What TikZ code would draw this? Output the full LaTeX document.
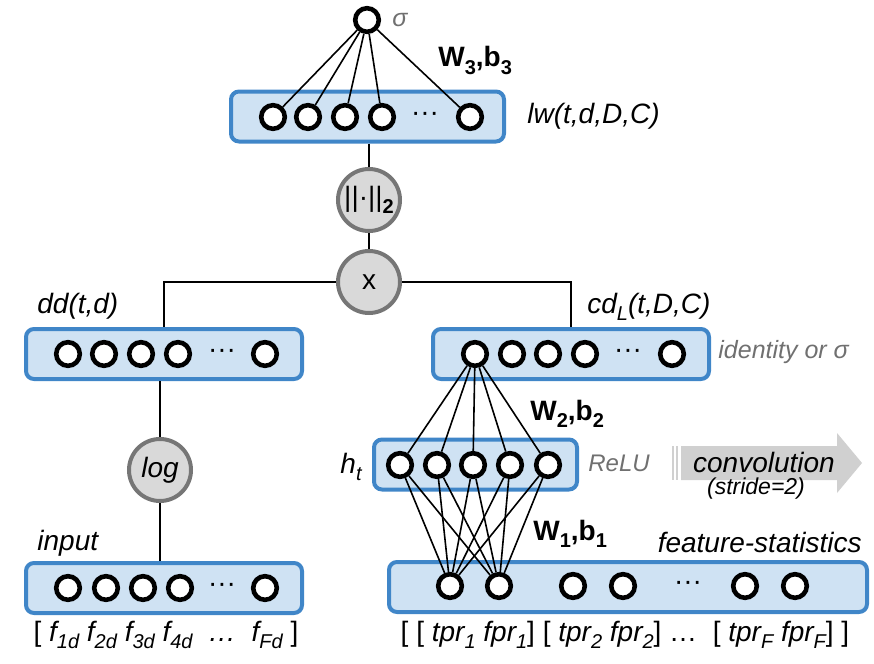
\documentclass[tikz,border=0pt]{standalone}
\usepackage{fontspec}
\setmainfont{Liberation Sans}
\definecolor{layerblue}{RGB}{64,134,200}
\definecolor{layerfill}{RGB}{207,226,243}
\definecolor{opfill}{RGB}{217,217,217}
\definecolor{opedge}{RGB}{118,118,118}
\definecolor{notegrey}{RGB}{112,112,112}
\definecolor{convgrey}{RGB}{208,208,208}
\newcommand{\lowidx}[1]{\raisebox{-0.5ex}{\fontsize{10pt}{11pt}\selectfont #1}}
\usetikzlibrary{positioning}

\begin{document}
\begin{tikzpicture}[x=0.5pt, y=-0.5pt,
		layer/.style={draw=layerblue, line width=2pt, rounded corners=4pt,
			fill=layerfill, minimum height=25pt, inner sep=0pt},
		neuron/.style={circle, draw=black, line width=2.3pt, fill=white,
			minimum size=11.8pt, inner sep=0pt},
		dots/.style={font=\fontsize{14pt}{16pt}\selectfont, inner sep=0pt},
		op/.style={circle, draw=opedge, line width=2pt, fill=opfill,
			minimum size=31pt, inner sep=0pt, font=\fontsize{14pt}{16pt}\selectfont},
		lbl/.style={font=\fontsize{14pt}{16pt}\selectfont\itshape, inner sep=0pt},
		note/.style={font=\fontsize{12.5pt}{14pt}\selectfont\itshape, text=notegrey, inner sep=0pt},
		wlbl/.style={font=\fontsize{14pt}{16pt}\selectfont\bfseries, inner sep=0pt},
		wire/.style={line width=0.8pt}
	]
		\useasboundingbox (0,0) rectangle (874,664);

		% layers
		\node[layer, minimum width=136.5pt] (lwbox) at (367.5,116.5) {};
		\node[layer, minimum width=138pt] (ddbox) at (164,354) {};
		\node[layer, minimum width=138pt] (cdbox) at (571,354) {};
		\node[layer, minimum width=101.5pt] (hbox) at (475.5,464.5) {};
		\node[layer, minimum width=138pt] (inbox) at (164,588) {};
		\node[layer, minimum width=239pt] (fsbox) at (628,587) {};

		% neurons
		\node[neuron] (sig) at (367,20) {};
		\foreach \x [count=\i] in {273,308,345,382,470}
			\node[neuron] (lw\i) at (\x,117) {};
		\foreach \x [count=\i] in {68,104,141,178,265}
			\node[neuron] (dd\i) at (\x,354) {};
		\foreach \x [count=\i] in {475,512,548,585,672}
			\node[neuron] (cd\i) at (\x,354) {};
		\foreach \x [count=\i] in {400,437,473,510,548}
			\node[neuron] (h\i) at (\x,465) {};
		\foreach \x [count=\i] in {68,106,143,180,265}
			\node[neuron] (in\i) at (\x,588) {};
		\foreach \x [count=\i] in {450,499,573,623,745,795}
			\node[neuron] (fs\i) at (\x,586) {};
		\node[dots] (lwdots) at (425,117) {···};
		\node[dots] (dddots) at (222,354) {···};
		\node[dots] (cddots) at (628,354) {···};
		\node[dots] (indots) at (222,588) {···};
		\node[dots] (fsdots) at (688,586) {···};

		% operations
		\node[op] (norm) at (369,200) {||·||\lowidx{\bfseries 2}};
		\node[op] (mult) at (369,282) {x};
		\node[op] (logop) at (160,470) {\itshape log};

		% wires
		\foreach \i in {1,...,5}
			\draw[wire] (sig) -- (lw\i);
		\draw[wire] (norm.north |- lwbox.south) -- (norm);
		\draw[wire] (norm) -- (mult);
		\draw[wire] (mult) -| (ddbox.north);
		\draw[wire] (mult) -| (cdbox.north);
		\draw[wire] (logop |- ddbox.south) -- (logop);
		\draw[wire] (logop) -- (logop |- inbox.north);
		\foreach \i in {1,...,5}
			\draw[wire] (cd1) -- (h\i);
		\foreach \i in {1,...,5} {
			\draw[wire] (h\i) -- (fs1);
			\draw[wire] (h\i) -- (fs2);
		}

		% convolution arrow
		\fill[convgrey] (681,446) -- (837,446) -- (837,433) -- (862,463)
			-- (837,493) -- (837,480) -- (681,480) -- cycle;
		\draw[convgrey, line width=1pt] (673,446) -- (673,480);
		\draw[convgrey, line width=1pt] (677,446) -- (677,480);
		\node[lbl, anchor=base] (conv) at (764,472) {convolution};
		\node[lbl, font=\fontsize{11.5pt}{13pt}\selectfont\itshape, anchor=base] (stride) at (756,494) {(stride=2)};

		% labels
		\node[note, anchor=base west] (sigl) at (392,26) {σ};
		\node[wlbl, anchor=base west] (w3) at (438,67) {W\lowidx{3},b\lowidx{3}};
		\node[lbl, anchor=base west] (lwl) at (527,123) {lw(t,d,D,C)};
		\node[lbl, anchor=base west] (ddl) at (37,313) {dd(t,d)};
		\node[lbl, anchor=base west] (cdl) at (587,313) {cd\lowidx{L}(t,D,C)};
		\node[note, anchor=base west] (cdn) at (718,358) {identity or σ};
		\node[wlbl, anchor=base west] (w2) at (530,420) {W\lowidx{2},b\lowidx{2}};
		\node[lbl, anchor=base east] (hl) at (362,473) {h\lowidx{t}};
		\node[note, font=\fontsize{12pt}{14pt}\selectfont\itshape, anchor=base west] (hn) at (588,471) {ReLU};
		\node[wlbl, anchor=base west] (w1) at (533,540) {W\lowidx{1},b\lowidx{1}};
		\node[lbl, anchor=base west] (inl) at (37,550) {input};
		\node[lbl, anchor=base east] (fsl) at (862,552) {feature-statistics};
		\node[lbl, anchor=base] (inv) at (166,641)
			{\upshape[ \itshape f\lowidx{1d} f\lowidx{2d} f\lowidx{3d} f\lowidx{4d} \ … \ f\lowidx{Fd} \upshape]};
		\node[lbl, anchor=base] (fsv) at (625,641)
			{\upshape[ [ \itshape tpr\lowidx{1} fpr\lowidx{1}\upshape] [ \itshape tpr\lowidx{2} fpr\lowidx{2}\upshape] … \ [ \itshape tpr\lowidx{F} fpr\lowidx{F}\upshape] ]};
	\end{tikzpicture}
\end{document}
